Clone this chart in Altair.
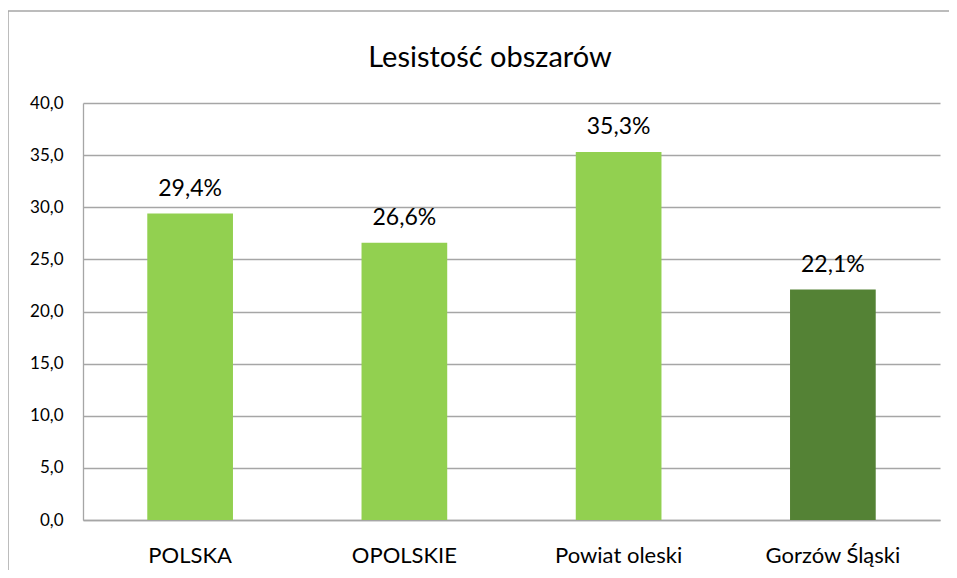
import altair as alt
import pandas as pd

categories = ["POLSKA", "OPOLSKIE", "Powiat oleski", "Gorzów Śląski"]
values = [29.4, 26.6, 35.3, 22.1]
highlight = "Gorzów Śląski"
title_text = ["Lesistość obszarów"]

df = pd.DataFrame({"cat": categories, "val": values})
tdf = pd.DataFrame({"t": title_text})

FONT = "Lato"
GRID = "#A6A6A6"

base = alt.Chart(df).encode(
    x=alt.X("cat:N", sort=categories,
            scale=alt.Scale(paddingInner=0.6, paddingOuter=0.3),
            axis=alt.Axis(title=None, labelAngle=0, labelFontSize=22, labelFont=FONT,
                          labelColor="#000000", ticks=False, labelPadding=25,
                          domainColor=GRID, domainWidth=1.3)),
)

bars = base.mark_bar().encode(
    y=alt.Y("val:Q", scale=alt.Scale(domain=[0, 40]),
            axis=alt.Axis(title=None, values=[0, 5, 10, 15, 20, 25, 30, 35, 40],
                          labelExpr="replace(format(datum.value, '.1f'), '.', ',')",
                          labelFontSize=17, labelFont=FONT, labelColor="#000000",
                          ticks=False, labelPadding=20, grid=True, gridColor=GRID,
                          gridWidth=1.3, domainColor=GRID, domainWidth=1.3)),
    color=alt.condition(alt.datum.cat == highlight, alt.value("#548235"), alt.value("#92D050")),
)

labels = base.mark_text(fontSize=23, font=FONT, color="#000000", baseline="alphabetic", dy=-18).transform_calculate(
    label="replace(format(datum.val, '.1f'), '.', ',') + '%'"
).encode(
    y=alt.Y("val:Q"),
    text="label:N",
)

border = alt.Chart(df).mark_rect(fill=None, stroke="#A6A6A6", strokeWidth=1.5).encode(
    x=alt.value(-75), x2=alt.value(2000), y=alt.value(-92), y2=alt.value(2000)
).transform_filter(alt.datum.cat == categories[0])

title = alt.Chart(tdf).mark_text(fontSize=29, font=FONT, color="#000000", baseline="alphabetic").encode(
    x=alt.value(407), y=alt.value(-36), text="t:N"
)

chart = alt.layer(border, bars, labels, title).properties(
    width=857, height=417,
    autosize=alt.AutoSizeParams(type="none"),
    padding={"left": 75, "top": 95, "right": 9, "bottom": 50},
).configure_view(stroke=None)

chart.save("out.html", embed_options={"renderer": "svg", "actions": False})
